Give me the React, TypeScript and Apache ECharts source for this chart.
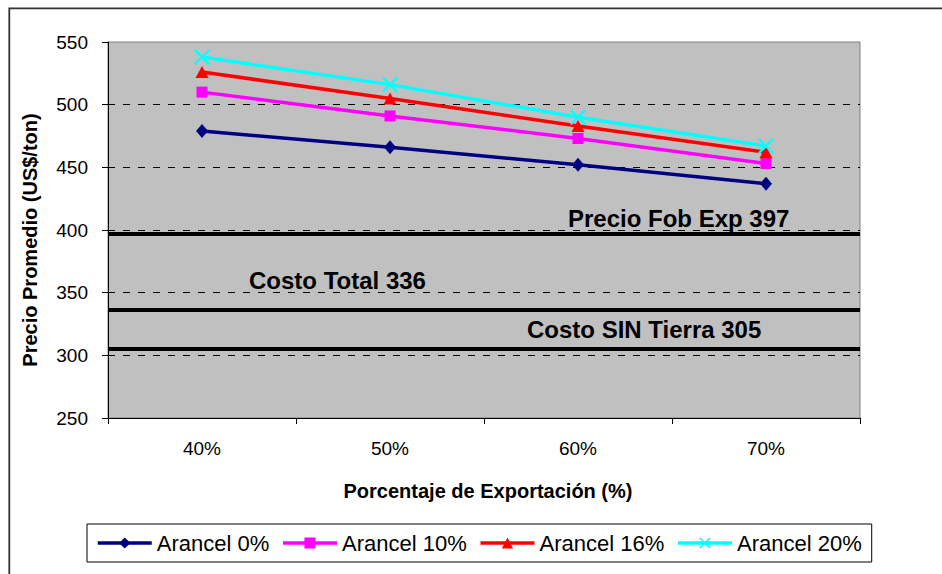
import React, { useEffect, useRef } from "react";
import * as echarts from "echarts";

// Export share categories (x axis)
const categories = ["40%", "50%", "60%", "70%"];

// Average price (US$/ton) for each tariff scenario
const arancel0 = [479, 466, 452, 437];
const arancel10 = [510, 491, 473, 453];
const arancel16 = [526, 505, 483, 462];
const arancel20 = [538, 516, 490, 467];

const seriesNames = ["Arancel 0%", "Arancel 10%", "Arancel 16%", "Arancel 20%"];
const seriesColors = ["#000080", "#FF00FF", "#FF0000", "#00FFFF"];

// Reference price / cost levels
const levelValues = [397, 336, 305];
const levelLabels = ["Precio Fob Exp 397", "Costo Total 336", "Costo SIN Tierra 305"];

// Y axis scale
const yMin = 250;
const yMax = 550;
const yInterval = 50;

const FONT = "'Liberation Sans', Arial, Helvetica, sans-serif";

// thin "X" marker
const crossSymbol =
  "path://M0,1 L1,0 L5,4 L9,0 L10,1 L6,5 L10,9 L9,10 L5,6 L1,10 L0,9 L4,5 Z";

export default function App() {
  const ref = useRef<HTMLDivElement>(null);

  useEffect(() => {
    if (!ref.current) return;
    const chart = echarts.init(ref.current, undefined, { renderer: "svg" });

    const values = [arancel0, arancel10, arancel16, arancel20];
    const symbols = ["diamond", "rect", "triangle", crossSymbol];
    const symbolSizes: any[] = [[12, 14], 11, [13, 12], 16];

    const series: any[] = values.map((data, i) => ({
      name: seriesNames[i],
      type: "line",
      data,
      symbol: symbols[i],
      symbolSize: symbolSizes[i],
      showAllSymbol: true,
      lineStyle: { color: seriesColors[i], width: 3.5 },
      itemStyle: { color: seriesColors[i], borderWidth: 0 },
      z: 5 + i,
    }));

    // horizontal reference levels
    series.push({
      name: "niveles",
      type: "line",
      data: [],
      silent: true,
      z: 4,
      markLine: {
        silent: true,
        symbol: "none",
        animation: false,
        label: { show: false },
        lineStyle: { color: "#000", width: 4, type: "solid" },
        data: levelValues.map((v) => ({ yAxis: v })),
      },
    });

    chart.setOption({
      animation: false,
      backgroundColor: "#ffffff",
      textStyle: { fontFamily: FONT },
      grid: {
        left: 108,
        top: 42,
        right: 82,
        bottom: 156,
        show: true,
        backgroundColor: "#C0C0C0",
        borderColor: "#808080",
        borderWidth: 1,
      },
      legend: {
        data: seriesNames,
        left: 87,
        top: 524,
        orient: "horizontal",
        borderColor: "#000",
        borderWidth: 1,
        padding: [8, 10, 8, 9],
        itemGap: 12,
        itemWidth: 54,
        itemHeight: 14,
        lineStyle: { width: 3.5 },
        textStyle: { fontSize: 22, color: "#000", fontFamily: FONT },
      },
      xAxis: {
        type: "category",
        data: categories,
        boundaryGap: true,
        axisLine: { show: true, lineStyle: { color: "#000", width: 1 } },
        axisTick: { show: true, length: 6, lineStyle: { color: "#000" } },
        axisLabel: { fontSize: 19, color: "#000", margin: 21, fontFamily: FONT },
        splitLine: { show: false },
      },
      yAxis: {
        type: "value",
        min: yMin,
        max: yMax,
        interval: yInterval,
        axisLine: { show: true, lineStyle: { color: "#000", width: 1 } },
        axisTick: { show: true, length: 6, lineStyle: { color: "#000" } },
        axisLabel: { fontSize: 19, color: "#000", margin: 20, fontFamily: FONT },
        splitLine: {
          show: true,
          showMinLine: false,
          showMaxLine: false,
          lineStyle: { color: "#000", width: 1, type: [7, 8] },
        },
      },
      series,
    });

    const yPix = (v: number) => chart.convertToPixel({ yAxisIndex: 0 }, v) as number;

    // label positions: left x, vertical offset (px) from the level line
    const labelX = [568, 249, 527];
    const labelDy = [-15.5, -30, -19.5];

    const graphic: any[] = [
      {
        type: "rect",
        silent: true,
        shape: { x: 9.3, y: 8.3, width: 1200, height: 1200 },
        style: { fill: "none", stroke: "#333", lineWidth: 1.8 },
        z: 100,
      },
      {
        type: "text",
        x: 488,
        y: 491,
        style: {
          text: "Porcentaje de Exportación (%)",
          font: `bold 20px ${FONT}`,
          fill: "#000",
          align: "center",
          verticalAlign: "middle",
        },
      },
      {
        type: "text",
        x: 30,
        y: 240,
        rotation: Math.PI / 2,
        style: {
          text: "Precio Promedio (US$/ton)",
          font: `bold 20px ${FONT}`,
          fill: "#000",
          align: "center",
          verticalAlign: "middle",
        },
      },
      ...levelValues.map((v, i) => ({
        type: "text",
        x: labelX[i],
        y: yPix(v) + labelDy[i],
        z: 50,
        style: {
          text: levelLabels[i],
          font: `bold 24px ${FONT}`,
          fill: "#000",
          align: "left",
          verticalAlign: "middle",
        },
      })),
    ];

    chart.setOption({ graphic });

    return () => chart.dispose();
  }, []);

  return (
    <div
      ref={ref}
      style={{ position: "absolute", left: 0, top: 0, width: 942, height: 574 }}
    />
  );
}
